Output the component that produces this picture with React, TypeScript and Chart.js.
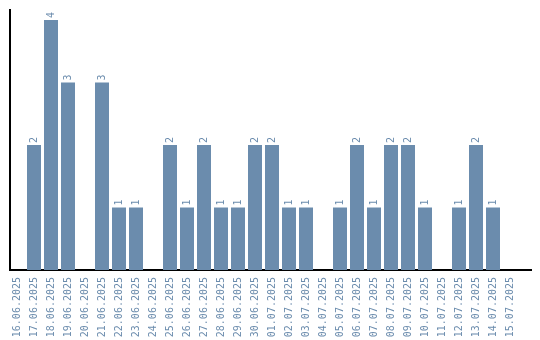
import React, { useEffect, useRef } from "react";
import { Chart, registerables } from "chart.js";

Chart.register(...registerables);

const dates = [
  "16.06.2025", "17.06.2025", "18.06.2025", "19.06.2025", "20.06.2025",
  "21.06.2025", "22.06.2025", "23.06.2025", "24.06.2025", "25.06.2025",
  "26.06.2025", "27.06.2025", "28.06.2025", "29.06.2025", "30.06.2025",
  "01.07.2025", "02.07.2025", "03.07.2025", "04.07.2025", "05.07.2025",
  "06.07.2025", "07.07.2025", "08.07.2025", "09.07.2025", "10.07.2025",
  "11.07.2025", "12.07.2025", "13.07.2025", "14.07.2025", "15.07.2025",
];
const counts = [
  0, 2, 4, 3, 0, 3, 1, 1, 0, 2,
  1, 2, 1, 1, 2, 2, 1, 1, 0, 1,
  2, 1, 2, 2, 1, 0, 1, 2, 1, 0,
];

const barColor = "#6b8cad";
const textColor = "#6b8cad";
const monoFont = "'DejaVu Sans Mono', monospace";

const valueLabels = {
  id: "valueLabels",
  afterDatasetsDraw(chart: any) {
    const ctx = chart.ctx;
    const meta = chart.getDatasetMeta(0);
    ctx.save();
    ctx.fillStyle = textColor;
    ctx.font = "10px " + monoFont;
    ctx.textAlign = "left";
    ctx.textBaseline = "middle";
    meta.data.forEach((bar: any, i: number) => {
      const v = counts[i];
      if (!v) return;
      ctx.save();
      ctx.translate(bar.x, bar.y - 2);
      ctx.rotate(-Math.PI / 2);
      ctx.fillText(String(v), 0, 0);
      ctx.restore();
    });
    ctx.restore();
  },
};

export default function App() {
  const ref = useRef<HTMLCanvasElement>(null);
  useEffect(() => {
    document.body.style.margin = "0";
    const chart = new Chart(ref.current!, {
      type: "bar",
      data: {
        datasets: [
          {
            data: counts.map((c, i) => ({ x: i, y: c })),
            backgroundColor: barColor,
            barPercentage: 14 / 17,
            categoryPercentage: 1,
          },
        ],
      },
      options: {
        animation: false,
        responsive: false,
        maintainAspectRatio: false,
        layout: { padding: { left: 10, top: 10, right: 9, bottom: 0 } },
        plugins: {
          legend: { display: false },
          tooltip: { enabled: false },
        },
        scales: {
          x: {
            type: "linear",
            offset: false,
            min: -7 / 17,
            max: 521 / 17 - 7 / 17,
            afterFit: (s: any) => {
              s.paddingLeft = 0;
              s.paddingRight = 0;
              s.height = 70;
            },
            grid: { display: false, drawTicks: false, offset: false },
            border: { display: true, color: "#000", width: 2 },
            ticks: {
              stepSize: 1,
              includeBounds: false,
              color: textColor,
              font: { family: monoFont, size: 10 },
              minRotation: 90,
              maxRotation: 90,
              padding: 7,
              autoSkip: false,
              callback: (v: any) => {
                const n = Number(v);
                return Number.isInteger(n) && dates[n] ? dates[n] : "";
              },
            },
          },
          y: {
            min: 0,
            max: 4.16,
            grid: { display: false, drawTicks: false },
            border: { display: true, color: "#000", width: 2 },
            ticks: { display: false },
          },
        },
      },
      plugins: [valueLabels],
    });
    return () => chart.destroy();
  }, []);
  return (
    <div style={{ width: 540, height: 340 }}>
      <canvas ref={ref} width={540} height={340} />
    </div>
  );
}
